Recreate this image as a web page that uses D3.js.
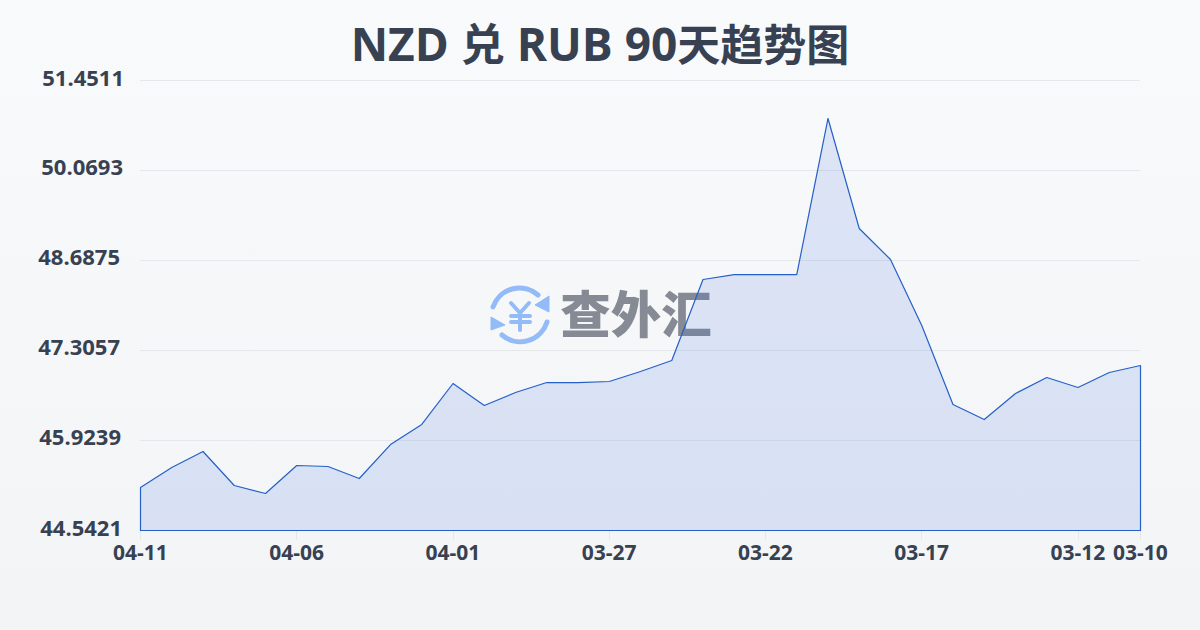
<!DOCTYPE html>
<html><head><meta charset="utf-8">
<style>html,body{margin:0;padding:0;width:1200px;height:630px;overflow:hidden}svg{display:block}</style>
<script src="https://cdnjs.cloudflare.com/ajax/libs/d3/7.8.5/d3.min.js"></script></head>
<body><script>
const titleLatinA = "NZD ";
const titleCjkA = "兑";
const titleLatinB = " RUB 90";
const titleCjkB = "天趋势图";
const watermark = "查外汇";
const rates = [45.202,45.509,45.755,45.233,45.110,45.540,45.525,45.340,45.862,46.170,46.799,46.461,46.661,46.814,46.814,46.830,46.983,47.152,48.396,48.472,48.472,48.472,50.868,49.179,48.703,47.689,46.476,46.246,46.645,46.891,46.737,46.968,47.075];
const xTickIndex = [0,5,10,15,20,25,30,32];
const xTickLabels = ["04-11","04-06","04-01","03-27","03-22","03-17","03-12","03-10"];
const yTicks = [44.5421,45.9239,47.3057,48.6875,50.0693,51.4511];
const yLabelRight = [122,121,120,120,123,124];
const font = '"Open Sans","Noto Sans CJK SC",sans-serif';
const W=1200,H=630;
const svg=d3.select("body").append("svg").attr("width",W).attr("height",H);
const defs=svg.append("defs");
const g=defs.append("linearGradient").attr("id","bg").attr("x1",0).attr("x2",0).attr("y1",0).attr("y2",1);
g.append("stop").attr("offset",0).attr("stop-color","#f9fafb");
g.append("stop").attr("offset",1).attr("stop-color","#f3f4f6");
svg.append("rect").attr("width",W).attr("height",H).attr("fill","url(#bg)");
const x=d3.scaleLinear().domain([0,rates.length-1]).range([140.5,1140.5]);
const y=d3.scaleLinear().domain([44.5421,51.4511]).range([530.5,80.5]);
svg.append("g").selectAll("line").data(yTicks.slice(1)).join("line")
 .attr("x1",140).attr("x2",1140).attr("y1",d=>Math.round(y(d)-.5)+.5).attr("y2",d=>Math.round(y(d)-.5)+.5)
 .attr("stroke","#e5e7eb").attr("stroke-width",1);
svg.append("g").selectAll("line").data(xTickIndex).join("line")
 .attr("x1",d=>Math.round(x(d)-.5)+.5).attr("x2",d=>Math.round(x(d)-.5)+.5).attr("y1",530).attr("y2",540)
 .attr("stroke","#e5e7eb");
const wm=svg.append("g");
const iconColor="#93bbf8";
wm.append("path").attr("d","M493,307 A28,28 0 0 1 538,295").attr("fill","none").attr("stroke",iconColor).attr("stroke-width",5).attr("stroke-linecap","round");
wm.append("path").attr("d","M549,296 L549,312 L535,305 Z").attr("fill",iconColor).attr("stroke",iconColor).attr("stroke-width",1).attr("stroke-linejoin","round");
wm.append("path").attr("d","M547,322 A28,28 0 0 1 502,335").attr("fill","none").attr("stroke",iconColor).attr("stroke-width",5).attr("stroke-linecap","round");
wm.append("path").attr("d","M491,317 L491,330 L505,325 Z").attr("fill",iconColor).attr("stroke",iconColor).attr("stroke-width",1).attr("stroke-linejoin","round");
wm.append("path").attr("d","M511,303 L520,313 L529,303 M511,316 H530 M511,322 H530 M520,313 V330").attr("fill","none").attr("stroke",iconColor).attr("stroke-width",4).attr("stroke-linecap","round").attr("stroke-linejoin","round");
wm.append("text").attr("x",636).attr("y",333).attr("text-anchor","middle").attr("font-family",font).attr("font-weight",900).attr("font-size",50.5).attr("fill","#858a94").text(watermark);
const area=d3.area().x((d,i)=>x(i)).y0(530.5).y1(d=>y(d));
svg.append("path").datum(rates).attr("d",d=>area(d)).attr("fill","rgba(59,110,220,0.15)").attr("stroke","#2560c8").attr("stroke-width",1.2).attr("stroke-linejoin","round");
svg.append("g").selectAll("text").data(yTicks).join("text")
 .attr("x",(d,i)=>yLabelRight[i]).attr("y",d=>Math.round(y(d))+5).attr("text-anchor","end")
 .attr("font-family",font).attr("font-weight",700).attr("font-size",22).attr("fill","#374151").text(d=>d.toFixed(4));
svg.append("g").selectAll("text").data(xTickIndex).join("text")
 .attr("x",d=>x(d)).attr("y",560).attr("text-anchor","middle")
 .attr("font-family",font).attr("font-weight",700).attr("font-size",21).attr("fill","#374151").text((d,i)=>xTickLabels[i]);
const title=svg.append("text").attr("x",600).attr("y",61).attr("text-anchor","middle").attr("font-family",font).attr("font-weight",700).attr("fill","#374151").attr("xml:space","preserve").style("white-space","pre");
title.append("tspan").attr("font-size",46).text(titleLatinA);
title.append("tspan").attr("font-size",44).text(titleCjkA);
title.append("tspan").attr("font-size",46).text(titleLatinB);
title.append("tspan").attr("font-size",43).text(titleCjkB);
</script></body></html>
